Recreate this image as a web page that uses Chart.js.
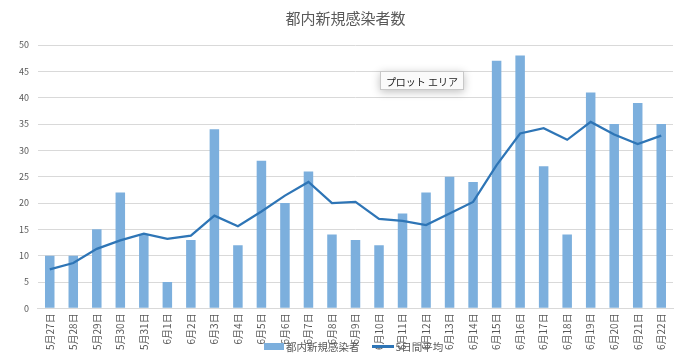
<!DOCTYPE html>
<html>
<head>
<meta charset="utf-8">
<script src="https://cdn.jsdelivr.net/npm/chart.js@4"></script>
<style>
  body { margin: 0; background: #fff; font-family: "Noto Sans CJK JP", sans-serif; }
  #wrap { position: relative; width: 696px; height: 363px; }
  #legend { position: absolute; top: 337px; left: 264px; font-size: 10.5px; color: #595959; white-space: nowrap; }
  #legend span { display: inline-block; vertical-align: middle; }
  .sw-bar { width: 20px; height: 7px; background: #7cafdd; margin-right: 2px; }
  .sw-line { width: 22px; height: 3px; background: #2e75b6; margin-left: 12px; margin-right: 2px; }
  #tip { position: absolute; left: 380px; top: 71px; width: 84px; height: 19px; background: #fafafa;
         border: 1px solid #c8c8c8; box-shadow: 0 2px 8px rgba(0,0,0,0.25); font-size: 10px; color: #222;
         line-height: 19px; text-align: center; box-sizing: border-box; }
</style>
</head>
<body>
<div id="wrap">
  <canvas id="grafico" width="696" height="363"></canvas>
  <div id="legend"><span class="sw-bar"></span><span>都内新規感染者</span><span class="sw-line"></span><span>5日間平均</span></div>
  <div id="tip">プロット エリア</div>
</div>
<script>
const dias = ["5月27日", "5月28日", "5月29日", "5月30日", "5月31日", "6月1日", "6月2日", "6月3日", "6月4日",
  "6月5日", "6月6日", "6月7日", "6月8日", "6月9日", "6月10日", "6月11日", "6月12日", "6月13日", "6月14日",
  "6月15日", "6月16日", "6月17日", "6月18日", "6月19日", "6月20日", "6月21日", "6月22日"];
const novosCasos = [10, 10, 15, 22, 14, 5, 13, 34, 12, 28, 20, 26, 14, 13, 12, 18, 22, 25, 24, 47, 48, 27, 14, 41, 35, 39, 35];
const media5dias = [7.4, 8.6, 11.3, 12.9, 14.2, 13.2, 13.8, 17.6, 15.6, 18.4, 21.4, 24, 20, 20.2, 17, 16.6, 15.8, 18, 20.2,
  27.2, 33.2, 34.2, 32, 35.4, 33, 31.2, 32.8];
const ticksY = [0, 5, 10, 15, 20, 25, 30, 35, 40, 45, 50];

const ctx = document.getElementById("grafico").getContext("2d");
Chart.defaults.font.family = '"Noto Sans CJK JP", sans-serif';
Chart.defaults.color = "#595959";

new Chart(ctx, {
  data: {
    labels: dias,
    datasets: [{
      type: "line",
      label: "5日間平均",
      data: media5dias,
      borderColor: "#2e75b6",
      borderWidth: 2.25,
      pointRadius: 0,
      tension: 0,
      order: 0
    }, {
      type: "bar",
      label: "都内新規感染者",
      data: novosCasos,
      backgroundColor: "#7cafdd",
      categoryPercentage: 0.86,
      barPercentage: 0.47,
      order: 1
    }]
  },
  options: {
    responsive: false,
    animation: false,
    layout: { padding: { left: 18, right: 23, top: 0, bottom: 8 } },
    plugins: {
      legend: { display: false },
      tooltip: { enabled: false },
      title: {
        display: true,
        text: "都内新規感染者数",
        font: { size: 15, weight: "normal" },
        color: "#595959",
        padding: { top: 9, bottom: 18 }
      }
    },
    scales: {
      x: {
        grid: { display: false, drawTicks: false },
        border: { color: "#d9d9d9" },
        ticks: { minRotation: 90, maxRotation: 90, font: { size: 10 }, padding: 5, autoSkip: false }
      },
      y: {
        min: 0,
        max: 50,
        afterBuildTicks: (axis) => { axis.ticks = ticksY.map(v => ({ value: v })); },
        afterFit: (axis) => { axis.width -= 8; },
        grid: { color: "#d9d9d9", drawTicks: false },
        border: { display: false },
        ticks: { font: { size: 9 }, padding: 9 }
      }
    }
  }
});
</script>
</body>
</html>
